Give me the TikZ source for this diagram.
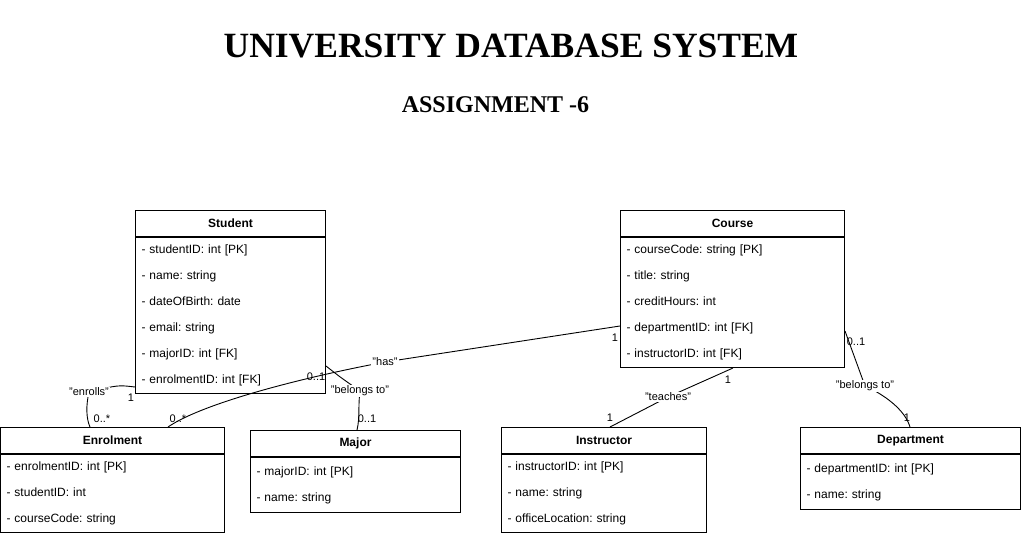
\documentclass[tikz,border=0pt]{standalone}
\usepackage{fontspec}
\setmainfont{Liberation Sans}
\newfontfamily\titlefont{Liberation Serif}
\usetikzlibrary{positioning}
\frenchspacing

\begin{document}
\begin{tikzpicture}[x=1pt, y=-1pt,
    clshead/.style={draw, line width=1pt, anchor=north west, minimum width=#1, minimum height=26pt, inner sep=0pt, font=\bfseries\fontsize{12}{14}\selectfont},
    clsbody/.style={draw, line width=1pt, text width=#1, inner xsep=6pt, inner ysep=0pt, align=left, font=\fontsize{12}{26}\selectfont},
    rel/.style={line width=0.9pt},
    rellabel/.style={fill=white, inner sep=1pt, font=\fontsize{11}{13}\selectfont},
    mult/.style={inner sep=0pt, font=\fontsize{11}{13}\selectfont}]
    \useasboundingbox (0,0) rectangle (1021,535);

    \node[font=\titlefont\bfseries\fontsize{35.5}{40}\selectfont, anchor=base] (title) at (511,58) {UNIVERSITY DATABASE SYSTEM};
    \node[font=\titlefont\bfseries\fontsize{24}{28}\selectfont, anchor=base] (subtitle) at (495.5,113) {ASSIGNMENT -6};

    % classes
    \node[clshead=190pt] (stuH) at (135,210) {Student};
    \node[clsbody=178pt, minimum height=156pt, below=0pt of stuH] (stuB) {- studentID: int [PK]\\- name: string\\- dateOfBirth: date\\- email: string\\- majorID: int [FK]\\- enrolmentID: int [FK]};
    \node[clshead=224pt] (couH) at (620,210) {Course};
    \node[clsbody=212pt, minimum height=130pt, below=0pt of couH] (couB) {- courseCode: string [PK]\\- title: string\\- creditHours: int\\- departmentID: int [FK]\\- instructorID: int [FK]};
    \node[clshead=224pt] (enrH) at (0,427) {Enrolment};
    \node[clsbody=212pt, minimum height=78pt, below=0pt of enrH] (enrB) {- enrolmentID: int [PK]\\- studentID: int\\- courseCode: string};
    \node[clshead=210pt] (majH) at (250,430) {Major};
    \node[clsbody=198pt, minimum height=55pt, below=0pt of majH] (majB) {- majorID: int [PK]\\- name: string};
    \node[clshead=205pt] (insH) at (501,427) {Instructor};
    \node[clsbody=193pt, minimum height=78pt, below=0pt of insH] (insB) {- instructorID: int [PK]\\- name: string\\- officeLocation: string};
    \node[clshead=220pt] (depH) at (800,427) {Department};
    \node[clsbody=208pt, minimum height=55pt, below=0pt of depH] (depB) {- departmentID: int [PK]\\- name: string};

    % relations
    \coordinate (pEnrolls) at (89,392);
    \coordinate (pHas) at (385,362);
    \coordinate (pBelongsA) at (360,391);
    \coordinate (pTeaches) at (668,397);
    \coordinate (pBelongsB) at (865,386);
    \draw[rel] ([yshift=7pt]stuB.south west) .. controls (118,385) .. (pEnrolls) .. controls (86,405) and (86,418) .. ([xshift=90pt]enrH.north west);
    \draw[rel] ([yshift=-89pt]couB.north west) -- (pHas) .. controls (290,380) and (200,405) .. ([xshift=168pt]enrH.north west);
    \draw[rel] ([yshift=28pt]stuB.south east) .. controls (340,377) .. (pBelongsA) .. controls (358,405) and (360,418) .. ([xshift=107pt]majH.north west);
    \draw[rel] ([xshift=113pt]couB.south west) -- (pTeaches) -- ([xshift=109pt]insH.north west);
    \draw[rel] ([yshift=-94pt]couB.north east) -- (pBelongsB) .. controls (885,395) and (905,410) .. ([xshift=110pt]depH.north west);
    \node[rellabel] (lEnrolls) at (pEnrolls) {"enrolls"};
    \node[rellabel] (lHas) at (pHas) {"has"};
    \node[rellabel] (lBelongsA) at (pBelongsA) {"belongs to"};
    \node[rellabel] (lTeaches) at (pTeaches) {"teaches"};
    \node[rellabel] (lBelongsB) at (pBelongsB) {"belongs to"};

    % multiplicities
    \node[mult] (m1) at (131,398) {1};
    \node[mult] (m2) at (102,419) {0..*};
    \node[mult] (m3) at (615,338) {1};
    \node[mult] (m4) at (178,419) {0..*};
    \node[mult] (m5) at (316,377) {0..1};
    \node[mult] (m6) at (367,419) {0..1};
    \node[mult] (m7) at (728,380) {1};
    \node[mult] (m8) at (610,418) {1};
    \node[mult] (m9) at (856,342) {0..1};
    \node[mult] (m10) at (907,418) {1};
\end{tikzpicture}
\end{document}
